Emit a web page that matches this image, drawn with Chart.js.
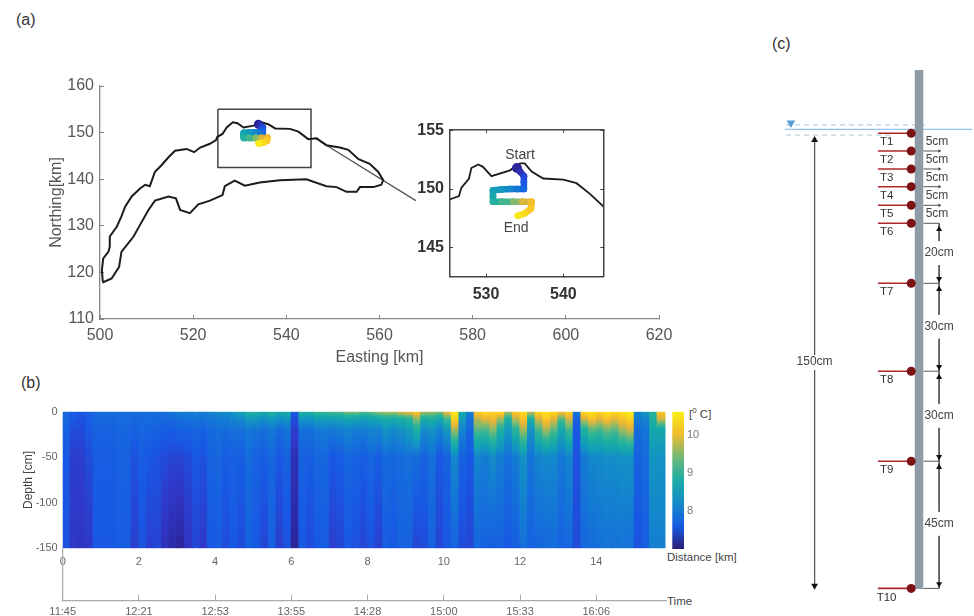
<!DOCTYPE html>
<html>
<head>
<meta charset="utf-8">
<script src="https://cdn.jsdelivr.net/npm/chart.js@4"></script>
<style>
  html, body { margin: 0; padding: 0; background: #fff; }
  body { width: 974px; height: 616px; position: relative; overflow: hidden; font-family: 'Liberation Sans', sans-serif; color: #444; }
  canvas { position: absolute; filter: blur(0.5px); }
  .lbl { position: absolute; white-space: nowrap; line-height: 1; }
  .lbl sup { font-size: 8px; line-height: 0; }
</style>
</head>
<body>
<div class="lbl" style="left:16px;top:12px;font-size:16px;color:#333">(a)</div>
<div class="lbl" style="left:21px;top:375px;font-size:16px;color:#333">(b)</div>
<div class="lbl" style="left:772px;top:36px;font-size:16px;color:#333">(c)</div>
<div class="lbl" style="left:667px;top:552px;font-size:11.5px">Distance [km]</div>
<div class="lbl" style="left:667px;top:596px;font-size:11.5px">Time</div>
<div class="lbl" style="left:689px;top:409px;font-size:11.5px">[<sup>0</sup> C]</div>

<canvas id="chart-map" width="660" height="320" style="left:40px;top:60px"></canvas>
<canvas id="chart-inset" width="215" height="220" style="left:410px;top:100px"></canvas>
<canvas id="chart-heat" width="750" height="226" style="left:0;top:390px"></canvas>
<canvas id="chart-bar" width="60" height="175" style="left:660px;top:390px"></canvas>
<canvas id="chart-sensor" width="214" height="586" style="left:760px;top:30px"></canvas>

<script>
// Coastline, km
const coastX = [500.6,500.4,500.7,501.8,502.1,502.1,503.6,504.6,505.4,506.8,508.6,509.7,510.7,511.8,513.2,514.7,516.1,518.6,520.2,521.5,523.6,524.9,525.2,526.3,527.2,528.5,529.5,530.8,533.0,534.7,536.1,537.6,540.8,542.6,544.7,546.5,548.6,551.5,553.3,555.5,557.9,559.7,560.8,560.4,558.7,555.8,555.1,552.9,550.8,548.6,544.3,538.6,534.3,531.1,528.9,526.8,526.3,523.6,521.1,519.3,517.2,516.3,514.7,511.8,510.4,508.6,507.2,504.6,504.1,502.5,500.7,500.6];
const coastY = [118.0,120.5,123.0,124.4,125.5,127.7,129.8,132.0,134.1,136.3,138.0,138.8,138.5,141.6,143.0,144.7,146.1,146.5,145.8,146.8,147.6,148.4,149.1,149.7,151.1,152.2,152.0,151.1,151.5,152.2,151.8,150.9,150.8,150.2,148.6,148.8,147.3,146.8,146.3,144.3,143.3,141.6,139.8,138.8,138.3,138.3,137.3,137.3,138.3,138.5,140.0,139.8,139.3,138.6,139.7,138.5,136.6,135.4,134.6,132.7,133.4,135.9,136.3,135.4,133.4,130.2,127.7,124.4,121.2,118.7,117.9,118.0];
const insetCoastX = [525.3,526.5,526.8,527.8,528.1,529.0,529.6,530.7,533.1,534.4,535.0,535.9,537.4,540.0,541.7,543.4,545.2];
const insetCoastY = [149.1,149.4,150.1,150.9,151.8,152.1,151.9,151.1,151.6,152.2,152.2,151.5,150.9,150.8,150.5,149.6,148.5];

// Survey track with surface temperature for colour
const trackX = [534.0,534.4,534.9,534.9,534.9,534.0,533.1,532.0,530.9,530.9,530.9,532.0,533.5,534.7,535.9,535.8,535.0,534.1];
const trackY = [151.8,151.5,151.1,150.6,150.0,150.0,150.0,149.95,149.9,149.4,148.9,148.9,148.9,148.9,148.9,148.3,147.9,147.7];
const trackTemp = [7.1,7.25,7.45,7.6,7.75,7.95,8.2,8.4,8.55,8.7,8.95,9.2,9.5,9.85,10.05,10.2,10.4,10.55];

const boxX = [525.3,545.3,545.3,525.3,525.3];
const boxY = [155,155,142.5,142.5,155];
const leaderX = [546,567.8];
const leaderY = [148.9,135.4];

// Panel (b): temperature per 0.2 km column at five depths
const distKm = [0.1,0.3,0.5,0.7,0.9,1.1,1.3,1.5,1.7,1.9,2.1,2.3,2.5,2.7,2.9,3.1,3.3,3.5,3.7,3.9,4.1,4.3,4.5,4.7,4.9,5.1,5.3,5.5,5.7,5.9,6.1,6.3,6.5,6.7,6.9,7.1,7.3,7.5,7.7,7.9,8.1,8.3,8.5,8.7,8.9,9.1,9.3,9.5,9.7,9.9,10.1,10.3,10.5,10.7,10.9,11.1,11.3,11.5,11.7,11.9,12.1,12.3,12.5,12.7,12.9,13.1,13.3,13.5,13.7,13.9,14.1,14.3,14.5,14.7,14.9,15.1,15.3,15.5,15.7];
const temp0 = [
  7.8,7.65,7.6,7.7,7.8,7.8,7.8,7.85,7.85,7.8,
  7.85,7.85,7.85,7.85,7.9,8.0,8.0,8.05,8.0,8.1,
  8.2,8.25,8.4,8.6,9.0,8.9,8.8,9.0,8.8,8.9,
  7.6,9.0,8.9,9.2,9.2,9.3,9.3,9.5,9.5,9.3,
  9.4,9.6,9.7,9.7,9.9,10.0,10.2,9.7,9.6,9.5,
  10.0,10.5,8.8,8.1,10.2,10.4,10.3,10.4,9.7,10.2,
  10.4,9.8,10.4,10.5,10.4,10.1,10.3,7.9,10.4,10.5,
  10.3,10.5,10.4,10.5,10.6,8.1,8.4,9.0,10.2];
const temp8 = [
  7.75,7.6,7.55,7.65,7.75,7.75,7.75,7.8,7.8,7.75,
  7.8,7.8,7.8,7.75,7.8,7.85,7.85,7.9,7.85,7.95,
  8.0,8.0,8.1,8.2,8.4,8.35,8.25,8.4,8.25,8.3,
  7.5,8.35,8.3,8.5,8.5,8.5,8.55,8.65,8.6,8.5,
  8.6,8.7,8.8,8.75,8.85,9.0,9.5,8.8,8.9,8.7,
  9.2,10.3,8.4,7.85,9.7,9.9,10.0,9.6,8.9,9.7,
  10.1,8.9,9.8,10.2,9.9,9.3,9.8,7.7,9.8,10.1,
  9.9,10.1,9.9,10.1,10.3,8.0,8.1,8.9,9.8];
const temp20 = [
  7.7,7.5,7.5,7.6,7.7,7.7,7.7,7.75,7.75,7.7,
  7.75,7.7,7.7,7.65,7.65,7.7,7.7,7.75,7.7,7.8,
  7.85,7.8,7.85,7.85,7.95,7.9,7.85,7.95,7.8,7.9,
  7.4,7.85,7.85,7.95,8.0,7.95,8.0,8.1,8.0,8.0,
  8.1,8.1,8.3,8.2,8.3,8.5,8.9,8.2,8.3,8.1,
  8.4,9.6,8.1,7.75,9.3,9.2,9.5,8.9,8.4,9.0,
  9.6,8.3,9.2,9.6,9.3,8.7,9.2,7.6,8.9,9.3,
  9.2,9.4,9.3,9.6,9.8,7.8,7.9,8.7,8.7];
const temp50 = [
  7.6,7.4,7.4,7.5,7.65,7.65,7.65,7.7,7.7,7.55,
  7.65,7.6,7.55,7.5,7.45,7.45,7.5,7.6,7.55,7.7,
  7.75,7.65,7.7,7.65,7.8,7.7,7.65,7.75,7.6,7.7,
  7.25,7.7,7.65,7.75,7.75,7.6,7.65,7.75,7.7,7.65,
  7.75,7.65,7.8,7.75,7.8,7.85,7.8,7.7,7.85,7.6,
  7.7,8.15,7.7,7.6,8.1,8.0,8.2,8.0,7.85,8.0,
  8.3,7.9,8.1,8.2,8.15,7.95,8.1,7.55,8.0,8.15,
  8.2,8.25,8.25,8.3,8.3,7.7,7.8,8.35,8.3];
const temp150 = [
  7.55,7.35,7.3,7.35,7.6,7.6,7.6,7.65,7.65,7.4,
  7.55,7.4,7.45,7.25,7.15,7.1,7.3,7.45,7.35,7.6,
  7.65,7.5,7.6,7.5,7.7,7.6,7.45,7.7,7.4,7.55,
  7.1,7.6,7.5,7.6,7.65,7.4,7.45,7.6,7.55,7.45,
  7.55,7.4,7.65,7.6,7.7,7.7,7.45,7.5,7.7,7.45,
  7.6,7.7,7.5,7.45,7.75,7.7,7.65,7.7,7.6,7.65,
  7.85,7.7,7.75,7.75,7.8,7.7,7.75,7.5,7.75,7.8,
  7.85,7.9,7.85,7.9,7.85,7.55,7.65,8.05,8.05];
const depthRows = [0,-8,-20,-50,-150];
const tempRows = [temp0,temp8,temp20,temp50,temp150];
const timeLabels = ['11:45','12:21','12:53','13:55','14:28','15:00','15:33','16:06'];

// Colour map taken off the colour bar
const cmapTemps = [7.0,7.15,7.35,7.6,7.9,8.3,8.7,9.1,9.5,9.9,10.2,10.6];
const cmapRgb = [[43,26,112],[44,42,168],[48,56,200],[24,88,228],[20,116,216],[19,146,196],[20,168,172],[44,180,152],[132,186,108],[232,180,54],[251,200,36],[249,238,20]];

// Panel (c): sensor string, positions along the drawing
const sensorNames = ['T1','T2','T3','T4','T5','T6','T7','T8','T9','T10'];
const sensorPos = [0,5.9,11.9,17.8,24,30,50,79.3,109.3,151.7];
const gapLabels = ['20cm','30cm','30cm','45cm'];
const gapFrom = [30,50,79.3,109.3];
const gapTo = [50,79.3,109.3,151.7];
const gapMid = [39.9,64.5,94.2,130.2];
const fiveLabels = ['5cm','5cm','5cm','5cm','5cm'];
const fivePos = [2.8,8.9,14.8,20.9,26.9];

const sans = "'Liberation Sans', sans-serif";

function zip(xs, ys) { return xs.map((x, i) => ({ x, y: ys[i] })); }

function tempColor(t) {
  let i = 0;
  while (i < cmapTemps.length - 2 && t > cmapTemps[i + 1]) i++;
  const f = Math.min(1, Math.max(0, (t - cmapTemps[i]) / (cmapTemps[i + 1] - cmapTemps[i])));
  const a = cmapRgb[i], b = cmapRgb[i + 1];
  return `rgb(${a.map((v, k) => Math.round(v + (b[k] - v) * f)).join(',')})`;
}

function tempGradient(chart, yTop, yBottom, tTop, tBottom) {
  const g = chart.ctx.createLinearGradient(0, chart.scales.y.getPixelForValue(yTop), 0, chart.scales.y.getPixelForValue(yBottom));
  for (let s = 0; s <= 6; s++) g.addColorStop(s / 6, tempColor(tTop + (tBottom - tTop) * s / 6));
  return g;
}

// small helper: text tied to data coordinates
function textMarks(items) {
  return {
    id: 'textMarks',
    afterDatasetsDraw(chart) {
      const { ctx, scales } = chart;
      ctx.save();
      ctx.textAlign = 'center';
      ctx.textBaseline = 'middle';
      items.forEach(t => {
        ctx.font = t.font;
        ctx.fillStyle = t.color;
        ctx.fillText(t.text, scales.x.getPixelForValue(t.x), scales.y.getPixelForValue(t.y));
      });
      ctx.restore();
    }
  };
}

function trackDataset(width, startRadius) {
  return {
    type: 'line',
    data: zip(trackX, trackY),
    borderWidth: width,
    borderColor: tempColor(8),
    segment: { borderColor: c => tempColor(trackTemp[c.p0DataIndex]) },
    borderCapStyle: 'round',
    borderJoinStyle: 'round',
    pointRadius: c => c.dataIndex === 0 ? startRadius : width / 2,
    pointBorderWidth: 0,
    pointBackgroundColor: c => tempColor(trackTemp[c.dataIndex])
  };
}

function plainLine(data, color, width, extra) {
  return Object.assign({ type: 'line', data, borderColor: color, borderWidth: width, pointRadius: 0, tension: 0 }, extra || {});
}

Chart.defaults.animation = false;
Chart.defaults.font.family = sans;
Chart.defaults.layout.autoPadding = false;
Chart.defaults.plugins.legend.display = false;
Chart.defaults.plugins.tooltip.enabled = false;

// (a) main map
new Chart(document.getElementById('chart-map'), {
  type: 'scatter',
  data: {
    datasets: [
      trackDataset(7, 4.5),
      plainLine(zip(coastX, coastY), '#1c1c1c', 2),
      plainLine(zip(boxX, boxY), '#444', 1.5),
      plainLine(zip(leaderX, leaderY), '#555', 1.3)
    ]
  },
  options: {
    responsive: false,
    layout: { padding: { top: 26, right: 41 } },
    scales: {
      x: {
        type: 'linear', min: 500, max: 620,
        afterFit: s => { s.height = 61; },
        grid: { drawOnChartArea: false, tickLength: -4, color: '#888' },
        border: { color: '#888', width: 1.3 },
        ticks: { stepSize: 20, padding: 11, color: '#555', font: { size: 16 }, maxRotation: 0 },
        title: { display: true, text: 'Easting [km]', color: '#555', font: { size: 16 }, padding: { bottom: 13 } }
      },
      y: {
        type: 'linear', min: 110, max: 160,
        afterFit: s => { s.width = 60; },
        grid: { drawOnChartArea: false, tickLength: -4, color: '#888' },
        border: { color: '#888', width: 1.3 },
        ticks: { stepSize: 10, padding: 10, color: '#555', font: { size: 16 } },
        title: { display: true, text: 'Northing[km]', color: '#555', font: { size: 16 }, padding: { top: 7 } }
      }
    }
  }
});

// (a) inset
const insetTickGrid = { drawOnChartArea: false, tickLength: -3, color: '#444' };
new Chart(document.getElementById('chart-inset'), {
  type: 'scatter',
  data: {
    datasets: [
      trackDataset(6.5, 5),
      plainLine(zip(insetCoastX, insetCoastY), '#1c1c1c', 1.8)
    ]
  },
  plugins: [textMarks([
    { text: 'Start', x: 534.4, y: 152.9, font: '14px ' + sans, color: '#444' },
    { text: 'End', x: 533.9, y: 146.65, font: '14px ' + sans, color: '#444' }
  ])],
  options: {
    responsive: false,
    layout: { padding: { top: 30, right: 21.7 } },
    scales: {
      x: {
        type: 'linear', min: 525.34, max: 545.17,
        afterFit: s => { s.height = 43.3; },
        grid: insetTickGrid,
        border: { color: '#444', width: 1.5 },
        ticks: { stepSize: 10, includeBounds: false, padding: 11, color: '#333', font: { size: 16, weight: 'bold' }, maxRotation: 0 }
      },
      y: {
        type: 'linear', min: 142.48, max: 155.06,
        afterFit: s => { s.width = 40; },
        grid: insetTickGrid,
        border: { color: '#444', width: 1.5 },
        ticks: { stepSize: 5, includeBounds: false, padding: 9, color: '#333', font: { size: 16, weight: 'bold' } }
      },
      xTop: {
        type: 'linear', position: 'top', min: 525.34, max: 545.17,
        afterFit: s => { s.height = 0; },
        grid: insetTickGrid,
        border: { color: '#444', width: 1.5 },
        ticks: { stepSize: 10, includeBounds: false, display: false }
      },
      yRight: {
        type: 'linear', position: 'right', min: 142.48, max: 155.06,
        afterFit: s => { s.width = 0; },
        grid: insetTickGrid,
        border: { color: '#444', width: 1.5 },
        ticks: { stepSize: 5, includeBounds: false, display: false }
      }
    }
  }
});

// (b) temperature section, one floating bar per column and depth band
const heatSets = depthRows.slice(0, -1).map((top, r) => {
  const bottom = depthRows[r + 1];
  return {
    type: 'bar',
    data: distKm.map(km => ({ x: km, y: [bottom, top] })),
    borderWidth: 0,
    backgroundColor: c => {
      if (!c.chart.chartArea) return '#1558e0';
      return tempGradient(c.chart, top, bottom, tempRows[r][c.dataIndex], tempRows[r + 1][c.dataIndex]);
    }
  };
});

new Chart(document.getElementById('chart-heat'), {
  type: 'bar',
  data: {
    datasets: [
      plainLine([{ x: 0, y: -150 }, { x: 0, y: -207.5 }], '#aaa', 1.2, { clip: false }),
      ...heatSets
    ]
  },
  options: {
    responsive: false,
    layout: { padding: { top: 21.7, right: 84 } },
    datasets: { bar: { grouped: false, barThickness: 8.2 } },
    scales: {
      x: {
        type: 'linear', min: 0, max: 15.83, offset: false,
        afterFit: s => { s.height = 52.3; },
        grid: { display: false, drawTicks: false, offset: false },
        border: { display: false },
        ticks: { stepSize: 2, includeBounds: false, padding: 7, color: '#666', font: { size: 11 }, maxRotation: 0 }
      },
      xTime: {
        type: 'linear', position: 'bottom', min: 0, max: 15.83, offset: false,
        afterFit: s => { s.height = 15.4; },
        grid: { drawOnChartArea: false, tickLength: -6, color: '#aaa', offset: false },
        border: { color: '#aaa', width: 1.2 },
        ticks: {
          stepSize: 2, includeBounds: false, padding: 11, color: '#666', font: { size: 11 }, maxRotation: 0,
          callback: v => timeLabels[v / 2]
        }
      },
      y: {
        type: 'linear', min: -150, max: 0,
        afterFit: s => { s.width = 62.7; },
        grid: { display: false, drawTicks: false },
        border: { display: false },
        ticks: { stepSize: 50, padding: 5, color: '#666', font: { size: 11 } },
        title: { display: true, text: 'Depth [cm]', color: '#444', font: { size: 12 }, padding: { top: 21 } }
      }
    }
  }
});

// (b) colour bar
new Chart(document.getElementById('chart-bar'), {
  type: 'bar',
  data: {
    labels: ['t'],
    datasets: [{
      data: [[7.02, 10.6]],
      barPercentage: 1,
      categoryPercentage: 1,
      borderWidth: 0,
      backgroundColor: c => c.chart.chartArea ? tempGradient(c.chart, 10.6, 7.02, 10.6, 7.02) : '#1558e0'
    }]
  },
  options: {
    responsive: false,
    layout: { padding: { left: 12.3, top: 21.7, bottom: 16 } },
    scales: {
      x: { display: false },
      y: {
        position: 'right', min: 7.02, max: 10.6,
        afterFit: s => { s.width = 36; },
        grid: { display: false, drawTicks: false },
        border: { display: false },
        ticks: { stepSize: 1, includeBounds: false, padding: 3, color: '#777', font: { size: 11 } }
      }
    }
  }
});

// (c) sensor string drawing
const poleX = 53, sensorL = 39.3, sensorR = 50, dotX = 50.4, dimX = 59.7, bigX = 18.2;
const ink = '#555';
const headBlack = { pointBackgroundColor: '#111', pointBorderWidth: 0, pointStyle: 'triangle', showLine: false };

function arrowHeads(ups, downs, r) {
  return [
    Object.assign({ type: 'line', data: ups.map(y => ({ x: dimX, y })), pointRadius: r }, headBlack),
    Object.assign({ type: 'line', data: downs.map(y => ({ x: dimX, y })), pointRadius: r, pointRotation: 180 }, headBlack)
  ];
}

const sensorSets = [
  { type: 'line', data: sensorPos.map(y => ({ x: dotX, y })), showLine: false, pointRadius: 4.5, pointBorderWidth: 0, pointBackgroundColor: '#7d1215' },
  ...arrowHeads(gapFrom.map(v => v + 2), gapTo.map(v => v - 1.5), 3.5),
  { type: 'line', data: [{ x: bigX, y: 2.2 }], showLine: false, pointRadius: 4, pointStyle: 'triangle', pointBorderWidth: 0, pointBackgroundColor: '#111' },
  { type: 'line', data: [{ x: bigX, y: 150.8 }], showLine: false, pointRadius: 4, pointStyle: 'triangle', pointRotation: 180, pointBorderWidth: 0, pointBackgroundColor: '#111' },
  { type: 'line', data: sensorPos.slice(1, 5).map(y => ({ x: 59.8, y })), showLine: false, pointRadius: 2, pointStyle: 'triangle', pointRotation: 90, pointBorderWidth: 0, pointBackgroundColor: '#444' },
  ...sensorPos.map(y => plainLine([{ x: sensorL, y }, { x: sensorR, y }], '#a8282c', 1.6)),
  ...sensorPos.slice(1).map(y => plainLine([{ x: 54.5, y }, { x: dimX, y }], ink, 1)),
  ...gapFrom.map((from, i) => plainLine(
    [{ x: dimX, y: from }, { x: dimX, y: gapMid[i] - 4 }, { x: dimX, y: null }, { x: dimX, y: gapMid[i] + 4 }, { x: dimX, y: gapTo[i] }], ink, 1)),
  plainLine([{ x: bigX, y: 2.2 }, { x: bigX, y: 73.9 }, { x: bigX, y: null }, { x: bigX, y: 78.9 }, { x: bigX, y: 150.8 }], ink, 1),
  plainLine([{ x: poleX, y: -21.1 }, { x: poleX, y: 151.9 }], '#8e9ca8', 8.5),
  { type: 'line', data: [{ x: 10.3, y: -3.4 }], showLine: false, pointRadius: 5, pointStyle: 'triangle', pointRotation: 180, pointBorderWidth: 0, pointBackgroundColor: '#5b9bd5' },
  plainLine([{ x: 8.3, y: -1.3 }, { x: 70.7, y: -1.3 }], '#92c4f0', 1.3),
  plainLine([{ x: 8.7, y: -2.8 }, { x: 55, y: -2.8 }], '#a0c4e4', 1, { borderDash: [5, 4] }),
  plainLine([{ x: 8.7, y: 0.6 }, { x: 44, y: 0.6 }], '#aac8e0', 1, { borderDash: [5, 4] })
];

const sensorText = [
  ...sensorNames.map((text, i) => ({ text, x: 42.2, y: sensorPos[i] + 3, font: '11.5px ' + sans, color: '#333' })),
  ...fiveLabels.map((text, i) => ({ text, x: 59, y: fivePos[i], font: '12px ' + sans, color: '#444' })),
  ...gapLabels.map((text, i) => ({ text, x: 59.7, y: gapMid[i], font: '12px ' + sans, color: '#444' })),
  { text: '150cm', x: 18.2, y: 76.2, font: '12px ' + sans, color: '#444' }
];

new Chart(document.getElementById('chart-sensor'), {
  type: 'scatter',
  data: { datasets: sensorSets },
  plugins: [textMarks(sensorText)],
  options: {
    responsive: false,
    scales: {
      x: { type: 'linear', display: false, min: 0, max: 71.33 },
      y: { type: 'linear', display: false, min: -34.43, max: 160.9, reverse: true }
    }
  }
});
</script>
</body>
</html>
